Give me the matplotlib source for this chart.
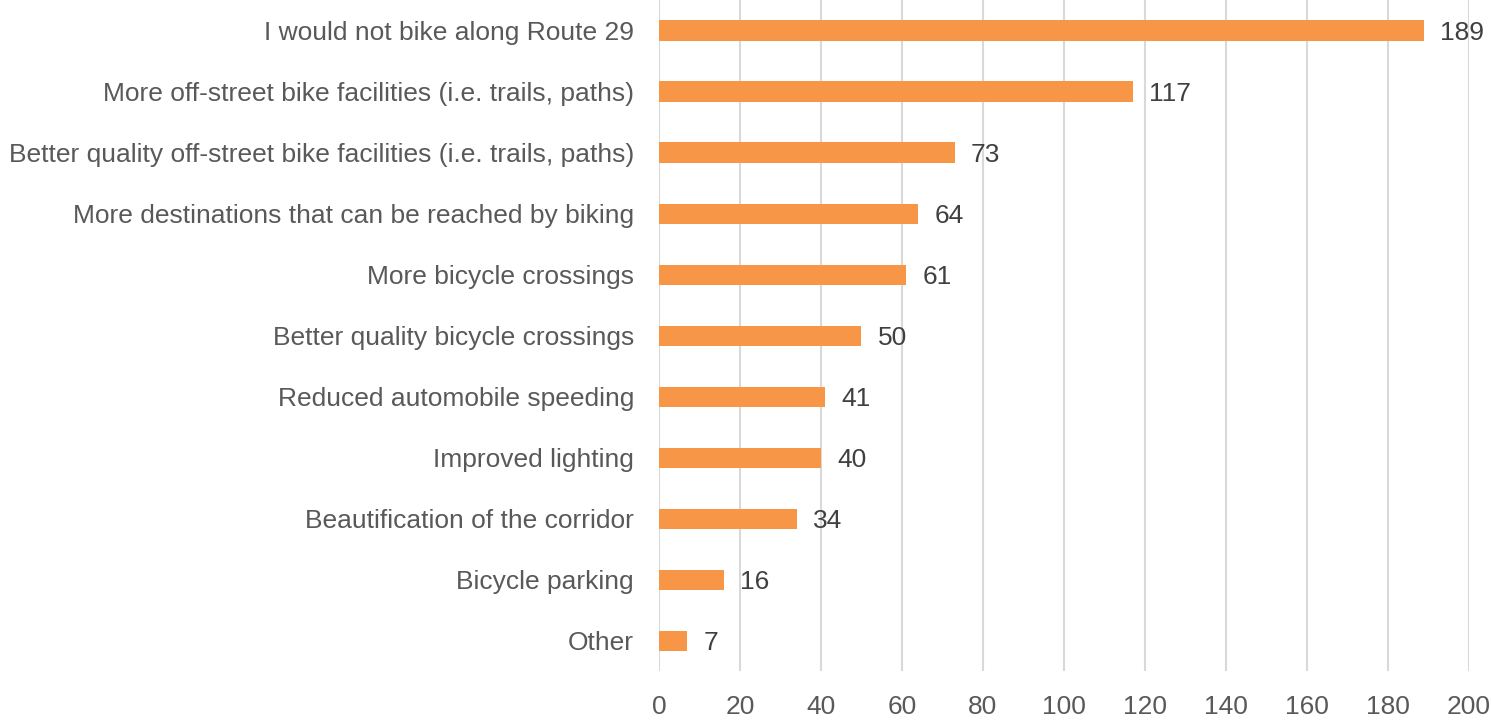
import matplotlib
matplotlib.use("Agg")
import matplotlib.pyplot as plt

plt.rcParams['font.family'] = ['Liberation Sans', 'DejaVu Sans']

categories = [
    "I would not bike along Route 29",
    "More off-street bike facilities (i.e. trails, paths)",
    "Better quality off-street bike facilities (i.e. trails, paths)",
    "More destinations that can be reached by biking",
    "More bicycle crossings",
    "Better quality bicycle crossings",
    "Reduced automobile speeding",
    "Improved lighting",
    "Beautification of the corridor",
    "Bicycle parking",
    "Other",
]
values = [189, 117, 73, 64, 61, 50, 41, 40, 34, 16, 7]
xticks = list(range(0, 201, 20))

fig = plt.figure(figsize=(14.91, 7.21), dpi=100)
ax = fig.add_axes([0.442, 0.069, 0.543, 0.931])

ypos = list(range(len(categories)))
ax.barh(ypos, values, height=0.33, color='#F79646', zorder=3)
for y, v in zip(ypos, values):
    ax.text(v + 4, y + 0.04, str(v), va='center', ha='left', fontsize=19, color='#404040')

ax.set_yticks(ypos)
ax.set_yticklabels(categories, fontsize=19, color='#595959')
ax.set_ylim(len(categories) - 0.5, -0.5)
ax.set_xlim(0, 200)
ax.set_xticks(xticks)
ax.set_xticklabels([str(t) for t in xticks], fontsize=19, color='#595959')
ax.tick_params(axis='both', length=0)
ax.tick_params(axis='x', pad=17)
ax.tick_params(axis='y', pad=18)
ax.grid(axis='x', color='#D9D9D9', linewidth=1.5, zorder=0)
for s in ax.spines.values():
    s.set_visible(False)

fig.savefig('out.png', dpi=100)
